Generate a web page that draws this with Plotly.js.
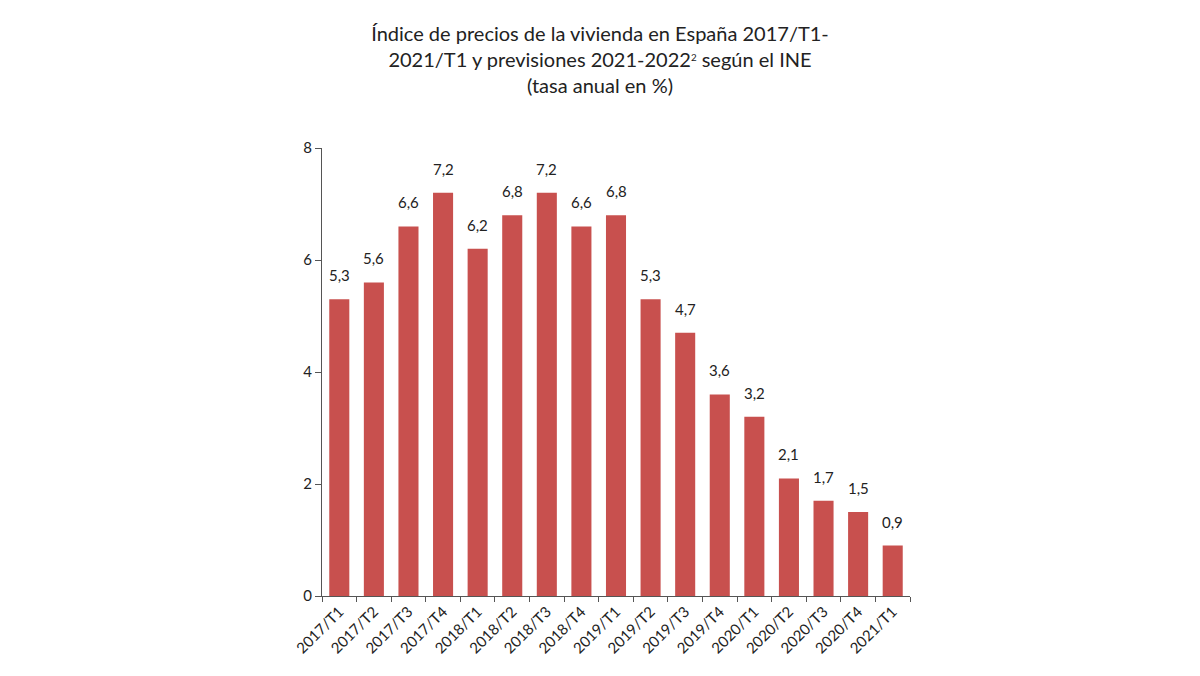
<!DOCTYPE html>
<html>
<head>
<meta charset="utf-8">
<script src="https://cdn.plot.ly/plotly-3.0.1.min.js"></script>
<style>html,body{margin:0;padding:0;background:#fff;}#chart{width:1200px;height:676px;}</style>
</head>
<body>
<div id="chart"></div>
<script>
const categories = ["2017/T1","2017/T2","2017/T3","2017/T4","2018/T1","2018/T2","2018/T3","2018/T4","2019/T1","2019/T2","2019/T3","2019/T4","2020/T1","2020/T2","2020/T3","2020/T4","2021/T1"];
const values = [5.3,5.6,6.6,7.2,6.2,6.8,7.2,6.6,6.8,5.3,4.7,3.6,3.2,2.1,1.7,1.5,0.9];
const yTicks = [0,2,4,6,8];

const FONT = "Lato, 'Noto Sans', sans-serif";

const annotations = categories.map((c, i) => ({
  x: c, y: values[i], xref: 'x', yref: 'y',
  text: values[i].toFixed(1).replace('.', ','),
  showarrow: false, yanchor: 'middle', yshift: 24,
  font: {family: FONT, size: 15, color: '#222'}
}));

const trace = {
  type: 'bar', x: categories, y: values,
  marker: {color: '#c8504e'},
  hoverinfo: 'x+y'
};

const layout = {
  width: 1200, height: 676,
  margin: {l: 322, r: 290, t: 148, b: 80},
  paper_bgcolor: '#fff', plot_bgcolor: '#fff',
  bargap: 0.42,
  separators: ',.',
  showlegend: false,
  title: {
    text: 'Índice de precios de la vivienda en España 2017/T1-<br>2021/T1 y previsiones 2021-2022<span style="font-size:14px"><sup>2</sup></span> según el INE<br>(tasa anual en %)',
    x: 0.5, xref: 'container', xanchor: 'center',
    y: 0.94, yref: 'container', yanchor: 'top',
    font: {family: FONT, size: 20, color: '#222'}
  },
  xaxis: {
    type: 'category', range: [-0.5, 16.5],
    tickson: 'boundaries', ticks: 'outside', ticklen: 5, tickcolor: '#555',
    showline: true, linecolor: '#555', linewidth: 1,
    tickangle: -45, showgrid: false, zeroline: false,
    tickfont: {family: FONT, size: 15, color: '#222'}
  },
  yaxis: {
    range: [0, 8], tickvals: yTicks, ticktext: yTicks.map(String),
    ticks: 'outside', ticklen: 6, tickcolor: '#555',
    showline: true, linecolor: '#555', linewidth: 1,
    showgrid: false, zeroline: false,
    tickfont: {family: FONT, size: 15, color: '#222'}
  },
  annotations: annotations
};

Plotly.newPlot('chart', [trace], layout, {displayModeBar: false, staticPlot: true});
</script>
</body>
</html>
